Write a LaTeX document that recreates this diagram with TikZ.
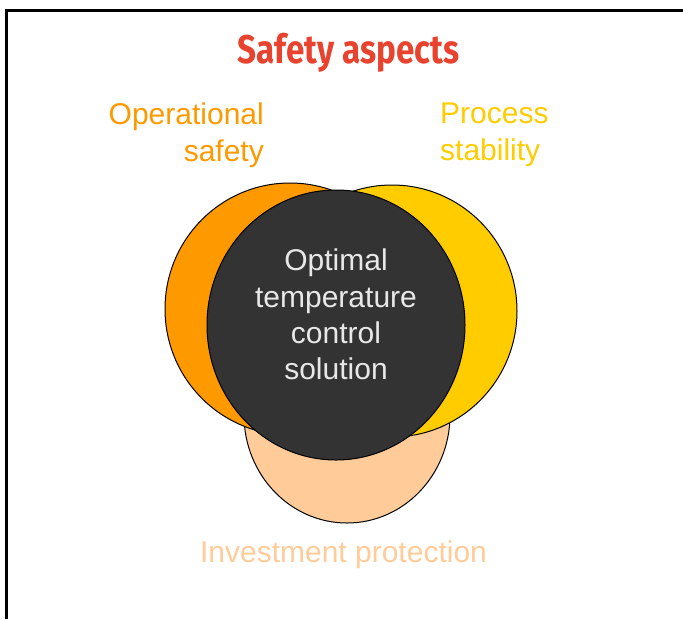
\documentclass[tikz,border=0pt]{standalone}
\usepackage{fontspec}
\setmainfont{Liberation Sans}
\newfontfamily\titlefont[FakeStretch=0.83]{Fira Sans}
\usepackage{tikz}
\usetikzlibrary{shapes.geometric}
\usetikzlibrary{positioning}
\definecolor{titleRed}{HTML}{E8432F}
\definecolor{opOrange}{HTML}{FF9900}
\definecolor{procYellow}{HTML}{FFCC00}
\definecolor{coreGray}{HTML}{333333}
\definecolor{peach}{HTML}{FFCC99}
\definecolor{coreText}{HTML}{E8E8E8}

\begin{document}
\begin{tikzpicture}
          [x=1pt, y=-1pt,
           every node/.style={inner sep=0pt},
           lobe/.style={draw, ellipse, line width=1pt},
           venntext/.style={font=\fontsize{30}{36.3}\selectfont}]
          \useasboundingbox (0,0) rectangle (683,619);
          \draw[line width=3pt] (6.5,619) -- (6.5,10.5) -- (683,10.5);

          \node (invest) [lobe, fill=peach, minimum width=206pt, minimum height=216pt] at (347,415) {};
          \node (oper) [lobe, fill=opOrange, minimum width=250pt, minimum height=252pt] at (290,309) {};
          \node (proc) [lobe, fill=procYellow, minimum width=250pt, minimum height=252pt] at (392,311) {};
          \node (core) [lobe, fill=coreGray, minimum width=258pt, minimum height=270pt] at (336,325) {};

          \node (coretext) [venntext, text=coreText, align=center, anchor=north] at (336,249) {Optimal\\temperature\\control\\solution};
          \node (opertext) [venntext, text=opOrange, align=right, anchor=north east] at (264,103) {Operational\\safety};
          \node (proctext) [venntext, text=procYellow, align=left, anchor=north west] at (440,103) {Process\\stability};
          \node (investtext) [venntext, text=peach, anchor=base] at (343.5,562) {Investment protection};
          \node (title) [text=titleRed, font=\titlefont\bfseries\fontsize{40}{48}\selectfont, anchor=base] at (348.5,63) {Safety aspects};
        \end{tikzpicture}
\end{document}
